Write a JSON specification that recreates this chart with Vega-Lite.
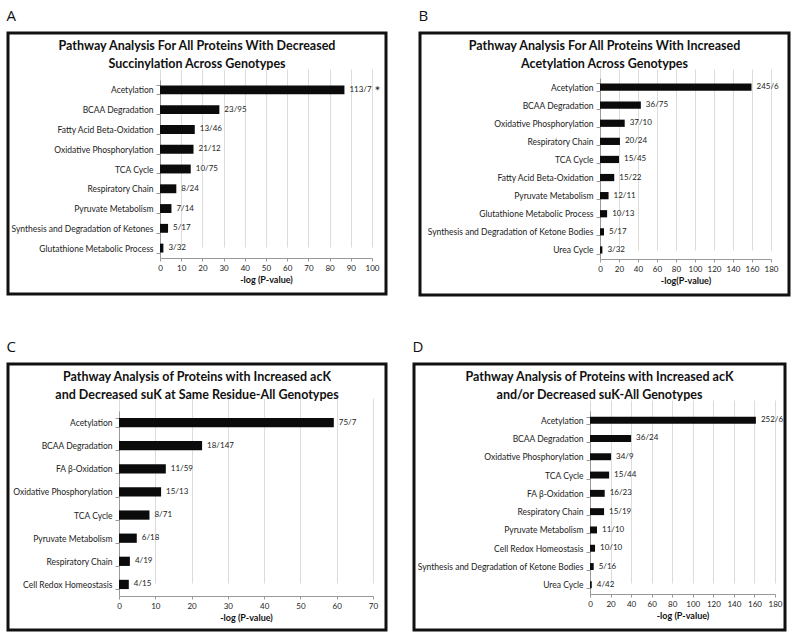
{
  "$schema": "https://vega.github.io/schema/vega-lite/v6.json",
  "padding": {"left": 6, "top": 8, "right": 5, "bottom": 5},
  "background": "white",
  "config": {
    "font": "Lato",
    "view": {"stroke": "#111", "strokeWidth": 3},
    "title": {"font": "Lato", "color": "#111"},
    "axis": {"labelFont": "Lato", "titleFont": "Lato", "labelColor": "#222", "titleColor": "#111", "domainColor": "#999", "tickColor": "#999", "gridColor": "#dcdcdc"},
    "axisY": {"labelFontSize": 8.5, "tickSize": 4, "labelPadding": 3, "grid": false, "tickBand": "extent", "title": null},
    "axisX": {"labelFontSize": 8, "tickSize": 3, "labelPadding": 3, "grid": true, "titleFontSize": 9, "titleFontWeight": "bold", "titlePadding": 3, "labelFlush": false}
  },
  "vconcat": [
    {
      "hconcat": [
        {
          "title": {"text": "A", "anchor": "start", "fontSize": 15, "fontWeight": "normal", "font": "Open Sans", "offset": 4},
          "vconcat": [
            {
              "width": 378, "height": 261,
              "title": {"text": ["Pathway Analysis For All Proteins With Decreased", "Succinylation Across Genotypes"], "fontSize": 12.5, "fontWeight": "bold", "lineHeight": 18, "offset": -41, "anchor": "middle"},
              "data": {"values": [
                {"pathway": "Acetylation", "value": 87, "label": "113/7", "star": "*"},
                {"pathway": "BCAA Degradation", "value": 28, "label": "23/95", "star": ""},
                {"pathway": "Fatty Acid Beta-Oxidation", "value": 16.4, "label": "13/46", "star": ""},
                {"pathway": "Oxidative Phosphorylation", "value": 15.8, "label": "21/12", "star": ""},
                {"pathway": "TCA Cycle", "value": 14.5, "label": "10/75", "star": ""},
                {"pathway": "Respiratory Chain", "value": 7.7, "label": "8/24", "star": ""},
                {"pathway": "Pyruvate Metabolism", "value": 5.4, "label": "7/14", "star": ""},
                {"pathway": "Synthesis and Degradation of Ketones", "value": 3.8, "label": "5/17", "star": ""},
                {"pathway": "Glutathione Metabolic Process", "value": 1.6, "label": "3/32", "star": ""}
              ]},
              "encoding": {
                "y": {"field": "pathway", "type": "nominal", "sort": null, "scale": {"range": [47, 225], "paddingInner": 0.55, "paddingOuter": 0.275}, "axis": {"offset": -152}},
                "x": {"field": "value", "type": "quantitative", "scale": {"domain": [0, 100], "range": [152, 364], "nice": false}, "axis": {"offset": -36, "title": "-log (P-value)", "values": [0, 10, 20, 30, 40, 50, 60, 70, 80, 90, 100]}}
              },
              "layer": [
                {"mark": {"type": "bar", "color": "#0b0b0b"}},
                {"mark": {"type": "text", "align": "left", "dx": 5, "fontSize": 8, "color": "#222"}, "encoding": {"text": {"field": "label"}}},
                {"mark": {"type": "text", "align": "left", "dx": 30, "fontSize": 14, "color": "#222", "dy": 2}, "encoding": {"text": {"field": "star"}}}
              ]
            }
          ]
        },
        {
          "title": {"text": "B", "anchor": "start", "fontSize": 15, "fontWeight": "normal", "font": "Open Sans", "offset": 4},
          "vconcat": [
            {
              "width": 369, "height": 262,
              "title": {"text": ["Pathway Analysis For All Proteins With Increased", "Acetylation Across Genotypes"], "fontSize": 12.5, "fontWeight": "bold", "lineHeight": 18, "offset": -41, "anchor": "middle"},
              "data": {"values": [
                {"pathway": "Acetylation", "value": 159.5, "label": "245/6"},
                {"pathway": "BCAA Degradation", "value": 43, "label": "36/75"},
                {"pathway": "Oxidative Phosphorylation", "value": 26, "label": "37/10"},
                {"pathway": "Respiratory Chain", "value": 21, "label": "20/24"},
                {"pathway": "TCA Cycle", "value": 20, "label": "15/45"},
                {"pathway": "Fatty Acid Beta-Oxidation", "value": 15, "label": "15/22"},
                {"pathway": "Pyruvate Metabolism", "value": 9, "label": "12/11"},
                {"pathway": "Glutathione Metabolic Process", "value": 7.5, "label": "10/13"},
                {"pathway": "Synthesis and Degradation of Ketone Bodies", "value": 4.2, "label": "5/17"},
                {"pathway": "Urea Cycle", "value": 2.5, "label": "3/32"}
              ]},
              "encoding": {
                "y": {"field": "pathway", "type": "nominal", "sort": null, "scale": {"range": [45, 226], "paddingInner": 0.6, "paddingOuter": 0.3}, "axis": {"offset": -180}},
                "x": {"field": "value", "type": "quantitative", "scale": {"domain": [0, 180], "range": [180, 351], "nice": false}, "axis": {"offset": -36, "title": "-log(P-value)", "values": [0, 20, 40, 60, 80, 100, 120, 140, 160, 180]}}
              },
              "layer": [
                {"mark": {"type": "bar", "color": "#0b0b0b"}},
                {"mark": {"type": "text", "align": "left", "dx": 5, "fontSize": 8, "color": "#222"}, "encoding": {"text": {"field": "label"}}}
              ]
            }
          ]
        }
      ],
      "spacing": 30
    },
    {
      "hconcat": [
        {
          "title": {"text": "C", "anchor": "start", "fontSize": 15, "fontWeight": "normal", "font": "Open Sans", "offset": 4},
          "vconcat": [
            {
              "width": 378, "height": 266,
              "title": {"text": ["Pathway Analysis of Proteins with Increased acK", "and Decreased suK at Same Residue-All Genotypes"], "fontSize": 12.5, "fontWeight": "bold", "lineHeight": 18, "offset": -41, "anchor": "middle"},
              "data": {"values": [
                {"pathway": "Acetylation", "value": 59.2, "label": "75/7"},
                {"pathway": "BCAA Degradation", "value": 22.9, "label": "18/147"},
                {"pathway": "FA β-Oxidation", "value": 12.9, "label": "11/59"},
                {"pathway": "Oxidative Phosphorylation", "value": 11.6, "label": "15/13"},
                {"pathway": "TCA Cycle", "value": 8.4, "label": "8/71"},
                {"pathway": "Pyruvate Metabolism", "value": 4.9, "label": "6/18"},
                {"pathway": "Respiratory Chain", "value": 3.0, "label": "4/19"},
                {"pathway": "Cell Redox Homeostasis", "value": 2.7, "label": "4/15"}
              ]},
              "encoding": {
                "y": {"field": "pathway", "type": "nominal", "sort": null, "scale": {"range": [47, 232], "paddingInner": 0.6, "paddingOuter": 0.3}, "axis": {"offset": -111}},
                "x": {"field": "value", "type": "quantitative", "scale": {"domain": [0, 70], "range": [111, 365], "nice": false}, "axis": {"offset": -34, "title": "-log (P-value)", "values": [0, 10, 20, 30, 40, 50, 60, 70]}}
              },
              "layer": [
                {"mark": {"type": "bar", "color": "#0b0b0b"}},
                {"mark": {"type": "text", "align": "left", "dx": 5, "fontSize": 8, "color": "#222"}, "encoding": {"text": {"field": "label"}}}
              ]
            }
          ]
        },
        {
          "title": {"text": "D", "anchor": "start", "fontSize": 15, "fontWeight": "normal", "font": "Open Sans", "offset": 4},
          "vconcat": [
            {
              "width": 371, "height": 266,
              "title": {"text": ["Pathway Analysis of Proteins with Increased acK", "and/or Decreased suK-All Genotypes"], "fontSize": 12.5, "fontWeight": "bold", "lineHeight": 18, "offset": -41, "anchor": "middle"},
              "data": {"values": [
                {"pathway": "Acetylation", "value": 161.4, "label": "252/6"},
                {"pathway": "BCAA Degradation", "value": 40, "label": "36/24"},
                {"pathway": "Oxidative Phosphorylation", "value": 20.5, "label": "34/9"},
                {"pathway": "TCA Cycle", "value": 18.6, "label": "15/44"},
                {"pathway": "FA β-Oxidation", "value": 14.3, "label": "16/23"},
                {"pathway": "Respiratory Chain", "value": 13.7, "label": "15/19"},
                {"pathway": "Pyruvate Metabolism", "value": 6.8, "label": "11/10"},
                {"pathway": "Cell Redox Homeostasis", "value": 4.9, "label": "10/10"},
                {"pathway": "Synthesis and Degradation of Ketone Bodies", "value": 3.6, "label": "5/16"},
                {"pathway": "Urea Cycle", "value": 1.7, "label": "4/42"}
              ]},
              "encoding": {
                "y": {"field": "pathway", "type": "nominal", "sort": null, "scale": {"range": [47, 230], "paddingInner": 0.62, "paddingOuter": 0.31}, "axis": {"offset": -176}},
                "x": {"field": "value", "type": "quantitative", "scale": {"domain": [0, 180], "range": [176, 361], "nice": false}, "axis": {"offset": -36, "title": "-log (P-value)", "values": [0, 20, 40, 60, 80, 100, 120, 140, 160, 180]}}
              },
              "layer": [
                {"mark": {"type": "bar", "color": "#0b0b0b"}},
                {"mark": {"type": "text", "align": "left", "dx": 5, "fontSize": 8, "color": "#222"}, "encoding": {"text": {"field": "label"}}}
              ]
            }
          ]
        }
      ],
      "spacing": 24
    }
  ],
  "spacing": 42
}
